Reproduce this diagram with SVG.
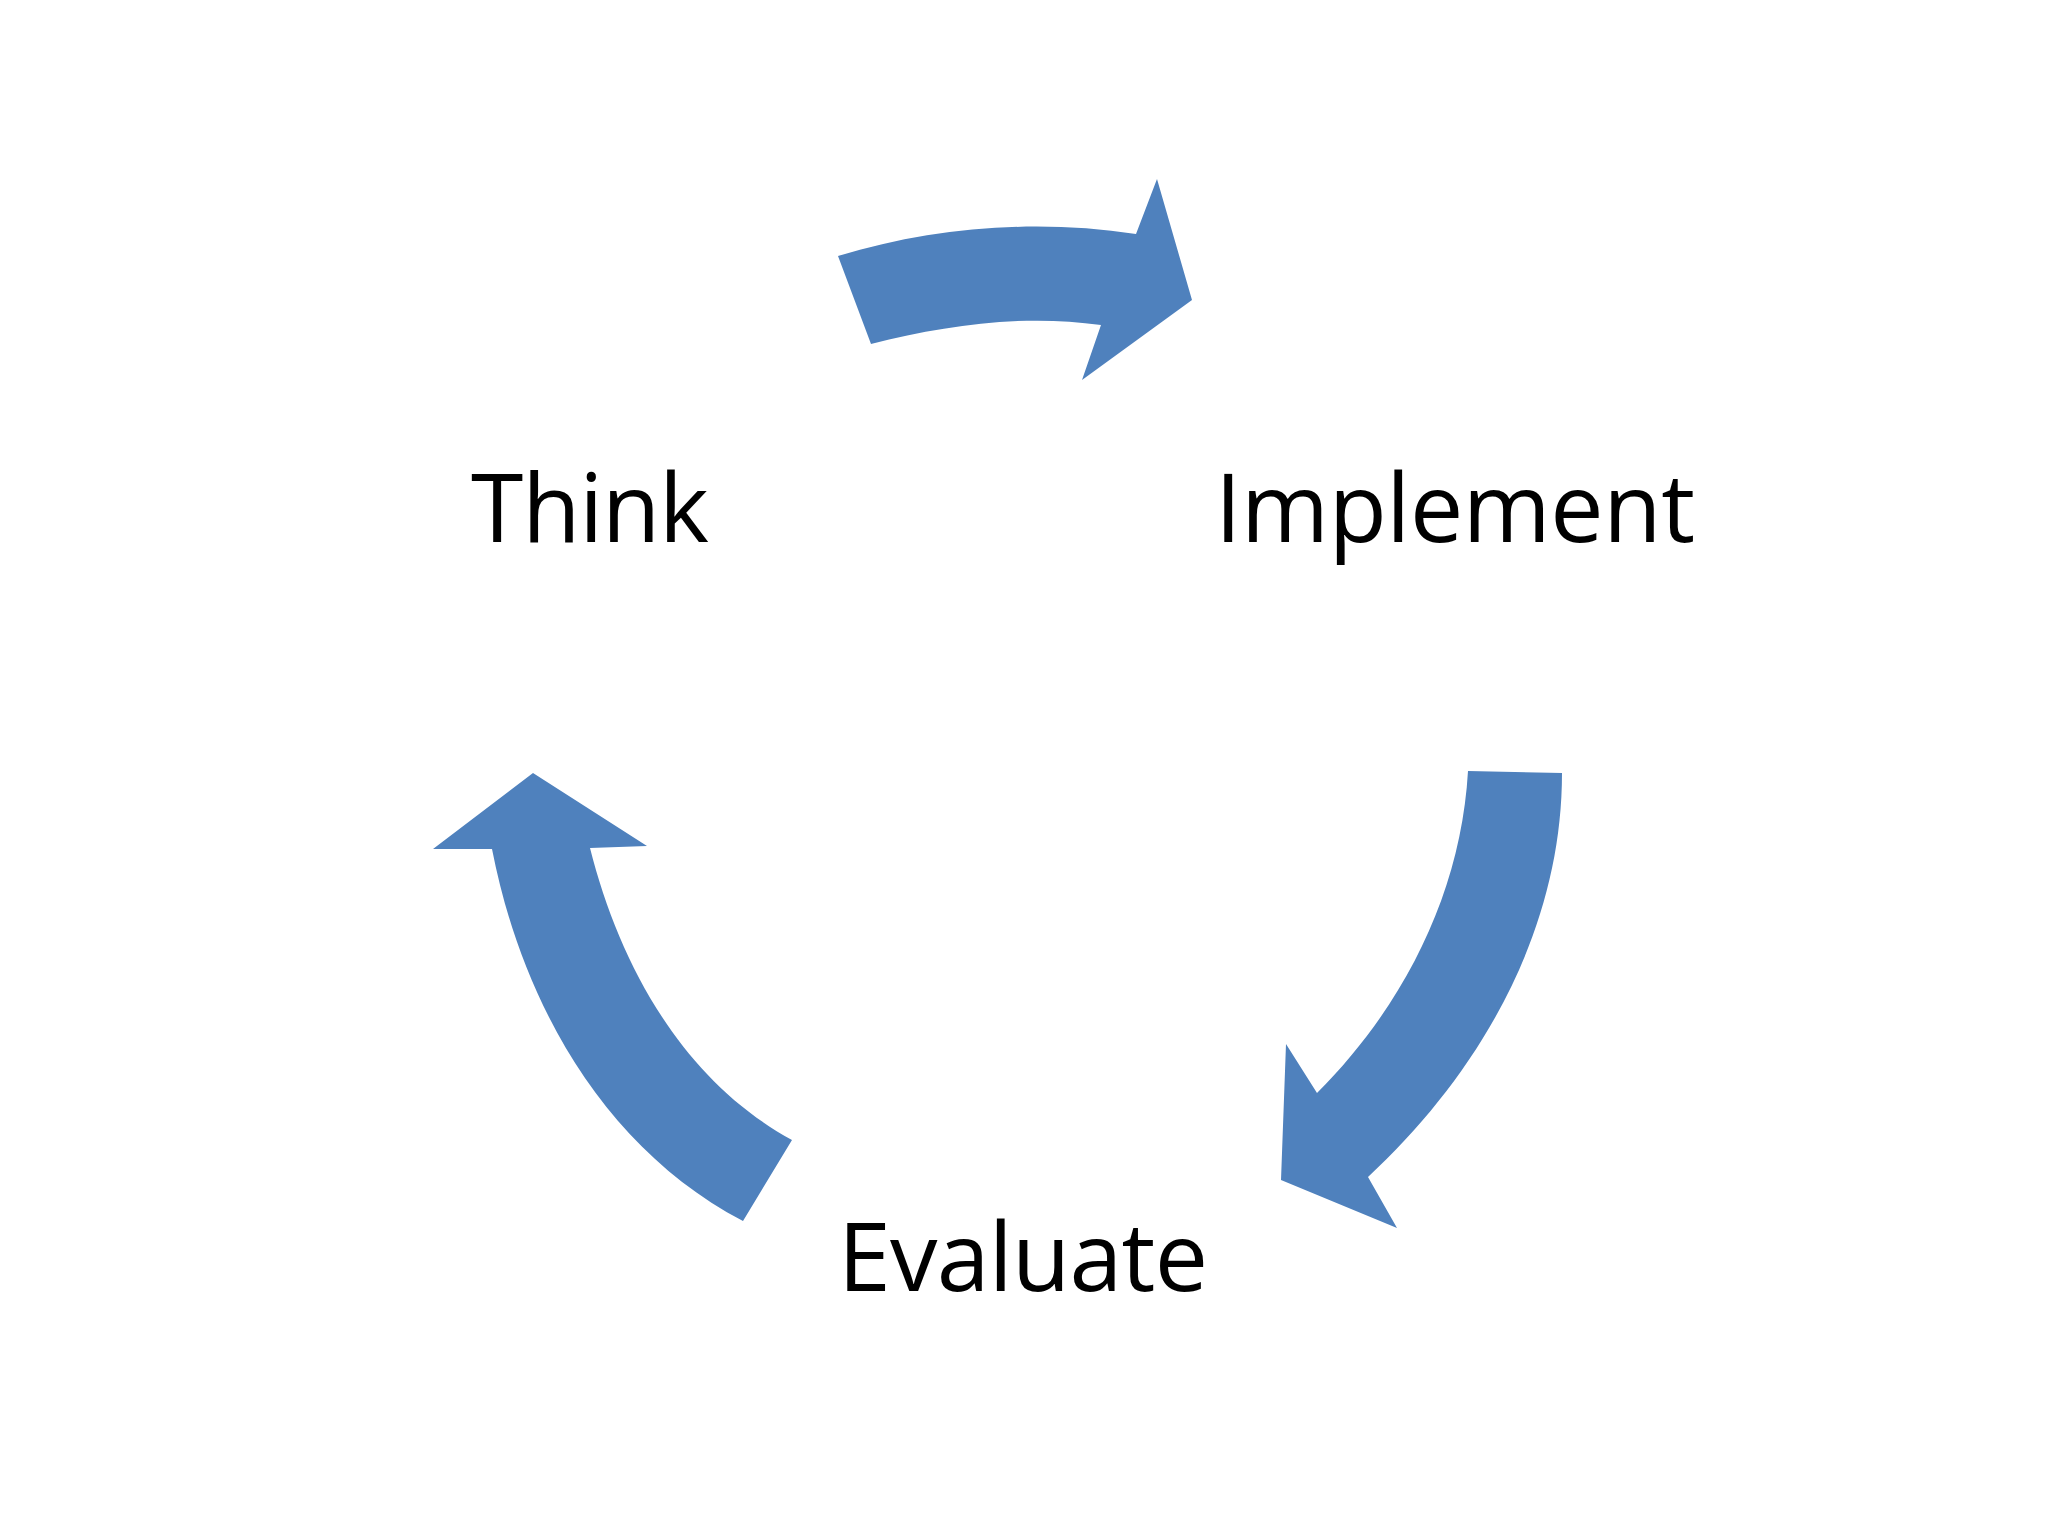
<svg xmlns="http://www.w3.org/2000/svg" width="2048" height="1536" viewBox="0 0 2048 1536">
<style>
.lbl{font-family:"Open Sans","Liberation Sans",sans-serif;font-size:95px;fill:#000}
.arrow{fill:#4F81BD;stroke:none}
</style>
<rect width="2048" height="1536" fill="#ffffff"/>
<g id="connectors">
<path id="arrow-think-implement" class="arrow" d="M838,256 C934,227 1036,219 1136,234 L1157,179 L1192,300 L1082,380 L1101,325 C1024,314 946,325 871,344 Z"/>
<path id="arrow-implement-evaluate" class="arrow" d="M1468,771 L1562,773 C1562,929 1482,1071 1368,1177 L1397,1228 L1281,1180 L1286,1044 L1317,1093 C1404,1006 1461,893 1468,771 Z"/>
<path id="arrow-evaluate-think" class="arrow" d="M533,773 L647,846 L590,848 C620,967 684,1081 792,1140 L743,1221 C604,1148 522,1003 492,849 L433,849 Z"/>
</g>
<g id="node-think"><text class="lbl" x="471" y="542" textLength="238" lengthAdjust="spacing">Think</text></g>
<g id="node-implement"><text class="lbl" x="1215" y="542" textLength="480" lengthAdjust="spacing">Implement</text></g>
<g id="node-evaluate"><text class="lbl" x="838" y="1291" textLength="370" lengthAdjust="spacing">Evaluate</text></g>
</svg>
